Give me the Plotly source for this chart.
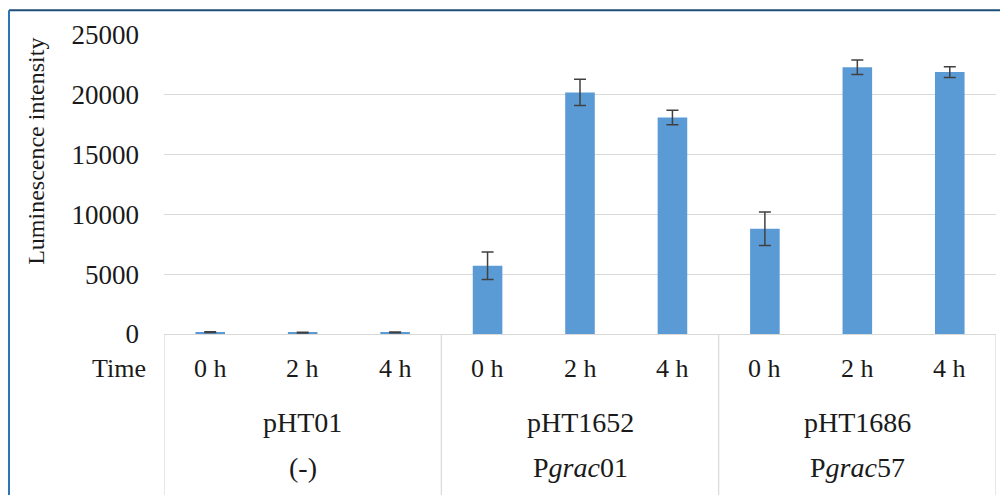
import plotly.graph_objects as go

# ---- data ----
groups = ["pHT01", "pHT1652", "pHT1686"]
promoters = ["(-)", "P<i>grac</i>01", "P<i>grac</i>57"]
times = ["0 h", "2 h", "4 h"]
values_pHT01 = [150, 120, 130]
values_pHT1652 = [5700, 20200, 18100]
values_pHT1686 = [8800, 22300, 21900]
err_pHT01 = [30, 30, 30]
err_pHT1652 = [1150, 1100, 600]
err_pHT1686 = [1400, 600, 450]
y_ticks = [0, 5000, 10000, 15000, 20000, 25000]
y_title = "Luminescence intensity"

values = values_pHT01 + values_pHT1652 + values_pHT1686
errors = err_pHT01 + err_pHT1652 + err_pHT1686
n_t = len(times)
xs = list(range(len(values)))

FONT = "Liberation Serif, Times New Roman, serif"
OFF = 8  # page body margin
W, H = 1008 - OFF, 495 - OFF
L, R, T = 164 - OFF, 12, 32 - OFF
B = H - (334 - OFF)
pw = W - L - R
ph = H - T - B

def px_x(p):
    return (p - OFF - L) / pw

def px_y(p):
    return (H - B - (p - OFF)) / ph

fig = go.Figure()
fig.add_trace(go.Bar(
    x=xs, y=values,
    marker=dict(color="#5b9bd5", line=dict(width=0)),
    error_y=dict(type="data", array=errors, visible=True,
                 color="#404040", thickness=1.5, width=6),
    width=0.32,
    hoverinfo="y",
))

annotations = []
for i, x in enumerate(xs):
    annotations.append(dict(x=x, xref="x", y=px_y(369), yref="paper",
                            text=times[i % n_t], showarrow=False,
                            font=dict(family=FONT, size=26, color="#1a1a1a"),
                            xanchor="center", yanchor="middle"))
for g in range(len(groups)):
    cx = g * n_t + (n_t - 1) / 2
    annotations.append(dict(x=cx, xref="x", y=px_y(423), yref="paper",
                            text=groups[g], showarrow=False,
                            font=dict(family=FONT, size=28, color="#1a1a1a"),
                            xanchor="center", yanchor="middle"))
    annotations.append(dict(x=cx, xref="x", y=px_y(469), yref="paper",
                            text=promoters[g], showarrow=False,
                            font=dict(family=FONT, size=28, color="#1a1a1a"),
                            xanchor="center", yanchor="middle"))
annotations.append(dict(x=px_x(148), xref="paper", y=px_y(369), yref="paper",
                        text="Time", showarrow=False,
                        font=dict(family=FONT, size=26, color="#1a1a1a"),
                        xanchor="right", yanchor="middle"))
annotations.append(dict(x=px_x(36), xref="paper", y=px_y(150), yref="paper",
                        text=y_title, showarrow=False, textangle=-90,
                        font=dict(family=FONT, size=24, color="#1a1a1a"),
                        xanchor="center", yanchor="middle"))

shapes = []
for g in range(len(groups) + 1):
    xb = g * n_t - 0.5
    shapes.append(dict(type="line", xref="x", yref="paper",
                       x0=xb, x1=xb, y0=0, y1=px_y(497),
                       line=dict(color="#d9d9d9", width=1.2)))
shapes.append(dict(type="line", xref="paper", yref="paper",
                   x0=px_x(9), x1=px_x(1010), y0=px_y(7), y1=px_y(7),
                   line=dict(color="#1f4e79", width=2)))
shapes.append(dict(type="line", xref="paper", yref="paper",
                   x0=px_x(9), x1=px_x(9), y0=px_y(7), y1=px_y(497),
                   line=dict(color="#2e75b6", width=2)))

fig.update_layout(
    width=W, height=H,
    margin=dict(l=L, r=R, t=T, b=B),
    paper_bgcolor="white", plot_bgcolor="white",
    showlegend=False,
    bargap=0.68,
    font=dict(family=FONT, size=26, color="#1a1a1a"),
    xaxis=dict(range=[-0.5, len(values) - 0.5], showticklabels=False,
               showgrid=False, zeroline=False, showline=True,
               linecolor="#d9d9d9", linewidth=1.2, ticks=""),
    yaxis=dict(range=[0, 25000], tickvals=y_ticks,
               ticktext=[str(v) for v in y_ticks],
               showgrid=True, gridcolor="#d9d9d9", gridwidth=1.2,
               zeroline=False, showline=False, ticks="",
               ticklabelstandoff=24,
               tickfont=dict(family=FONT, size=27, color="#1a1a1a")),
    annotations=annotations,
    shapes=shapes,
)

fig.write_html("out.html")
